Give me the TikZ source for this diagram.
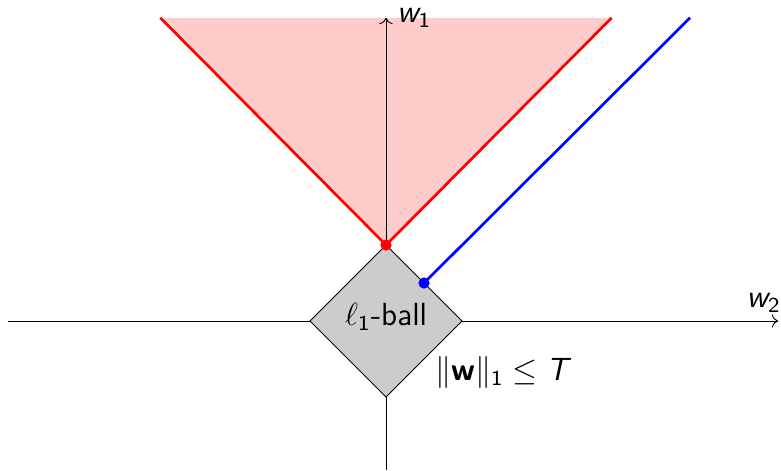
\documentclass[tikz,border=0pt]{standalone}
\usepackage{amsmath}
\usepackage{amssymb}
\usepackage{xcolor}
\definecolor{ConeFill}{RGB}{255,204,204}
\definecolor{BallFill}{RGB}{204,204,204}
\usepackage{tikz}
\usetikzlibrary{arrows, arrows.meta, positioning, calc}
\newcommand{\sfvar}[1]{\textsf{\slshape #1}}
\newcommand{\sfnum}[1]{\textsf{#1}}
\tikzset{
  % Axes
  axis/.style={->, line width=0.35pt, black},
  % Cone boundary and shifted ray
  coneline/.style={line width=1pt, red},
  rayline/.style={line width=1pt, blue},
  % Feasible set
  ball/.style={draw=black, line width=0.35pt, fill=BallFill},
  % Corner points
  dotpt/.style={circle, fill=#1, inner sep=0pt, minimum size=4.2pt},
}

\begin{document}
\begin{tikzpicture}[x=1cm, y=1cm, every node/.style={font=\large}]
  \useasboundingbox (-5.079,-1.961) rectangle (5.197,4.224);

  % Points
  \coordinate (O) at (0,0);
  \coordinate (xmin) at (-4.97,0);
  \coordinate (xmax) at (5.16,0);
  \coordinate (ymin) at (0,-1.96);
  \coordinate (ymax) at (0,3.99);
  \coordinate (apex) at (0,1);
  \coordinate (coneL) at (-2.97,3.99);
  \coordinate (coneR) at (2.97,3.99);
  \coordinate (corner) at (0.5,0.5);
  \coordinate (rayend) at (4,3.99);
  \coordinate (dT) at (0,1);
  \coordinate (dR) at (1,0);
  \coordinate (dB) at (0,-1);
  \coordinate (dL) at (-1,0);

  % Cone
  \fill[ConeFill] (coneL) -- (apex) -- (coneR) -- cycle;

  % Axes
  \draw[axis] (xmin) -- (xmax);
  \draw[axis] (ymin) -- (ymax);
  \node[right, inner sep=4pt] (w1) at (ymax) {$\sfvar{w}_{\sfnum{1}}$};
  \node[above, inner sep=3pt] (w2) at (4.97,0) {$\sfvar{w}_{\sfnum{2}}$};

  % l1 ball
  \draw[ball] (dT) -- (dR) -- (dB) -- (dL) -- cycle;
  \node (balllabel) at (0,0.05) {$\ell_{\sfnum{1}}$\textsf{-ball}};
  \node (constraint) at (1.52,-0.68) {$\|\textsf{\bfseries w}\|_{\sfnum{1}} \le \sfvar{T}$};

  % Cone edges and shifted ray
  \draw[coneline] (coneL) -- (apex) -- (coneR);
  \draw[rayline] (corner) -- (rayend);
  \node[dotpt=red] (apexdot) at (apex) {};
  \node[dotpt=blue] (cornerdot) at (corner) {};
\end{tikzpicture}
\end{document}
